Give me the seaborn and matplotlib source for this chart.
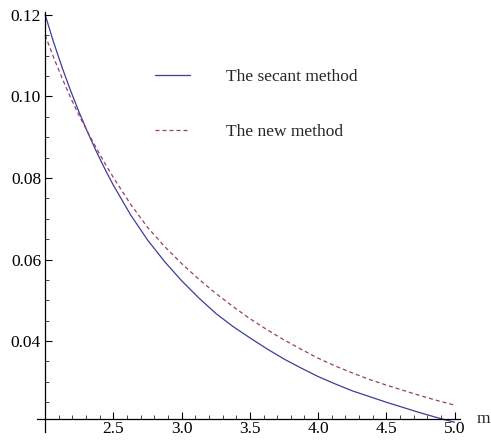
import numpy as np
import pandas as pd
import matplotlib
matplotlib.use("Agg")
import matplotlib.pyplot as plt
import seaborn as sns
from matplotlib.ticker import FixedLocator

# ---- data ----
m_values = [2.0, 2.0625, 2.125, 2.1875, 2.25, 2.3125, 2.375, 2.4375, 2.5, 2.625, 2.75, 2.875,
            3.0, 3.125, 3.25, 3.375, 3.5, 3.625, 3.75, 3.875,
            4.0, 4.125, 4.25, 4.375, 4.5, 4.625, 4.75, 4.875, 5.0]
secant = [0.1200, 0.1132, 0.1070, 0.1013, 0.0960, 0.0911, 0.0865, 0.0822, 0.0782, 0.0710,
          0.0648, 0.0595, 0.0548, 0.0506, 0.0468, 0.0436, 0.0408, 0.0381, 0.0356, 0.0334,
          0.0313, 0.0295, 0.0278, 0.0264, 0.0250, 0.0237, 0.0224, 0.0212, 0.0201]
newm = [0.1150, 0.1095, 0.1044, 0.0996, 0.0952, 0.0912, 0.0873, 0.0836, 0.0801, 0.0736,
        0.0679, 0.0632, 0.0590, 0.0552, 0.0517, 0.0485, 0.0455, 0.0428, 0.0403, 0.0380,
        0.0358, 0.0339, 0.0322, 0.0306, 0.0292, 0.0279, 0.0266, 0.0254, 0.0243]
labels = ["The secant method", "The new method"]
y_ticks = [0.04, 0.06, 0.08, 0.10, 0.12]
y_ticklabels = ["0.04", "0.06", "0.08", "0.10", "0.12"]
x_ticks = [2.5, 3.0, 3.5, 4.0, 4.5, 5.0]
x_ticklabels = ["2.5", "3.0", "3.5", "4.0", "4.5", "5.0"]

df = pd.DataFrame({
    "m": m_values * 2,
    "value": secant + newm,
    "method": [labels[0]] * len(m_values) + [labels[1]] * len(m_values),
})

sns.set_style("white")
plt.rcParams["font.family"] = ["Liberation Serif", "DejaVu Serif"]

fig = plt.figure(figsize=(4.91, 4.42), dpi=100)
ax = fig.add_axes([37 / 491, 10 / 442, 423 / 491, 420 / 442])

colors = {labels[0]: "#3d3d99", labels[1]: "#993d71"}
sns.lineplot(data=df, x="m", y="value", hue="method", style="method",
             palette=colors, dashes={labels[0]: "", labels[1]: (3.2, 2.4)},
             linewidth=0.9, ax=ax, legend=True)

ax.set_xlim(1.94, 5.04)
ax.set_ylim(0.0177, 0.1207)
ax.set_xlabel("")
ax.set_ylabel("")

for s in ["top", "right"]:
    ax.spines[s].set_visible(False)
ax.spines["left"].set_position(("data", 2.0))
ax.spines["bottom"].set_position(("data", 0.021))
for s in ["left", "bottom"]:
    ax.spines[s].set_linewidth(0.9)
    ax.spines[s].set_color("black")

ax.xaxis.set_major_locator(FixedLocator(x_ticks))
ax.set_xticklabels(x_ticklabels)
ax.xaxis.set_minor_locator(FixedLocator([v for v in np.arange(2.1, 5.01, 0.1) if abs(v * 2 - round(v * 2)) > 1e-6]))
ax.yaxis.set_major_locator(FixedLocator(y_ticks))
ax.set_yticklabels(y_ticklabels)
ax.yaxis.set_minor_locator(FixedLocator([v for v in np.arange(0.025, 0.1201, 0.005) if abs(v * 50 - round(v * 50)) > 1e-6]))

ax.tick_params(axis="both", which="major", direction="in", length=5, width=0.8,
               labelsize=12.5, colors="black", bottom=True, left=True)
ax.tick_params(axis="both", which="minor", direction="in", length=3, width=0.6,
               bottom=True, left=True)
ax.tick_params(axis="x", pad=2)
ax.tick_params(axis="y", pad=3)

ax.text(5.16, 0.021, "m", fontsize=12.5, ha="left", va="center")

handles, lbls = ax.get_legend_handles_labels()
ax.legend(handles, lbls, loc="upper left", bbox_to_anchor=(155 / 491, 1 - 69 / 442),
          bbox_transform=fig.transFigure, frameon=False, fontsize=12.5,
          handlelength=2.0, handletextpad=2.1, labelspacing=2.25,
          borderpad=0, borderaxespad=0)

fig.savefig("out.png", dpi=100)
